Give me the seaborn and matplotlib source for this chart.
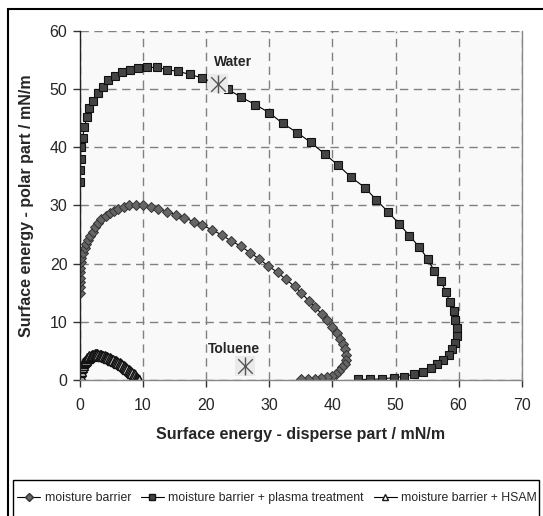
import matplotlib
matplotlib.use("Agg")
import matplotlib.pyplot as plt
from matplotlib.patches import Rectangle
from matplotlib.lines import Line2D
import seaborn as sns
import pandas as pd

sns.set_style("white")
plt.rcParams['font.family'] = ['Liberation Sans', 'DejaVu Sans']

# ---- data ----
barrier_x = [0, 0, 0, 0, 0, 0.05, 0.1, 0.2, 0.4, 0.8, 1.0, 1.3, 1.6, 2.0, 2.4, 2.9, 3.4, 4.1,
             4.8, 5.4, 6.1, 6.9, 7.8, 8.9, 10.0, 11.2, 12.4, 13.8, 15.2, 16.5, 18.0, 19.4,
             20.9, 22.5, 23.9, 25.5, 26.9, 28.4, 29.8, 31.3, 32.6, 34.0, 35.1, 36.3, 37.2,
             38.3, 39.2, 39.9, 40.7, 41.2, 41.7, 42.0, 42.2, 42.2, 42.0, 41.6, 41.1, 40.6,
             39.9, 39.1, 38.2, 37.2, 36.2, 35.0]
barrier_y = [15.0, 15.9, 16.8, 17.6, 18.5, 19.3, 20.2, 21.0, 21.9, 22.7, 23.4, 24.1, 24.8,
             25.5, 26.3, 27.0, 27.6, 28.1, 28.7, 29.0, 29.4, 29.7, 30.0, 30.1, 30.0, 29.7,
             29.3, 28.9, 28.4, 27.9, 27.2, 26.6, 25.8, 24.9, 23.9, 23.0, 21.9, 20.8, 19.6,
             18.5, 17.3, 16.1, 14.9, 13.6, 12.5, 11.4, 10.3, 9.1, 8.1, 7.1, 6.1, 5.3, 4.3,
             3.4, 2.7, 2.2, 1.6, 1.1, 0.7, 0.5, 0.3, 0.2, 0.1, 0.1]

plasma_x = [0, 0, 0.1, 0.1, 0.4, 0.7, 1.1, 1.5, 2.1, 2.8, 3.6, 4.5, 5.5, 6.6, 7.9, 9.2, 10.6,
            12.2, 13.8, 15.6, 17.4, 19.3, 21.4, 23.5, 25.5, 27.8, 30.0, 32.1, 34.4, 36.6,
            38.8, 40.9, 42.9, 45.2, 46.9, 48.8, 50.6, 52.2, 53.8, 55.1, 56.1, 57.2, 58.0,
            58.6, 59.2, 59.5, 59.7, 59.7, 59.4, 58.9, 58.4, 57.5, 56.6, 55.6, 54.3, 52.9,
            51.3, 49.7, 47.8, 46.0, 44.0]
plasma_y = [34.0, 36.0, 38.0, 40.0, 41.6, 43.4, 45.2, 46.7, 48.0, 49.3, 50.4, 51.5, 52.3,
            52.9, 53.3, 53.6, 53.7, 53.7, 53.3, 53.0, 52.5, 51.9, 51.0, 49.9, 48.6, 47.3,
            45.9, 44.1, 42.5, 40.8, 38.8, 36.9, 34.9, 33.0, 31.0, 28.9, 26.8, 24.8, 22.8,
            20.8, 18.8, 17.0, 15.1, 13.4, 11.8, 10.3, 8.9, 7.6, 6.4, 5.3, 4.3, 3.4, 2.7,
            2.0, 1.4, 1.0, 0.6, 0.4, 0.2, 0.1, 0.1]

hsam_x = [0.0, 0.05, 0.1, 0.2, 0.3, 0.4, 0.5, 0.6, 0.75, 0.9, 1.05, 1.2, 1.35, 1.5, 1.7,
          1.9, 2.1, 2.3, 2.5, 2.7, 2.9, 3.1, 3.3, 3.5, 3.7, 3.9, 4.1, 4.3, 4.5, 4.7, 4.9,
          5.1, 5.3, 5.5, 5.7, 5.9, 6.1, 6.3, 6.5, 6.7, 6.9, 7.1, 7.3, 7.5, 7.7, 7.9, 8.1,
          8.3, 8.5, 8.7, 8.85, 9.0, 9.1, 9.2, 9.3, 9.35]
hsam_y = [0.9, 1.3, 1.6, 2.0, 2.3, 2.6, 2.85, 3.05, 3.3, 3.5, 3.7, 3.85, 4.0, 4.1, 4.2,
          4.3, 4.35, 4.4, 4.4, 4.4, 4.35, 4.3, 4.25, 4.2, 4.1, 4.05, 4.0, 3.9, 3.8, 3.7,
          3.6, 3.5, 3.4, 3.3, 3.2, 3.1, 2.95, 2.85, 2.7, 2.55, 2.4, 2.25, 2.1, 1.95, 1.8,
          1.6, 1.4, 1.2, 1.0, 0.8, 0.6, 0.4, 0.25, 0.12, 0.05, 0.0]

liquid_names = ["Water", "Toluene"]
liquid_x = [21.9, 26.1]
liquid_y = [50.9, 2.4]

series_labels = ["moisture barrier", "moisture barrier + plasma treatment",
                 "moisture barrier + HSAM"]
x_ticks = [0, 10, 20, 30, 40, 50, 60, 70]
y_ticks = [0, 10, 20, 30, 40, 50, 60]

# ---- figure ----
W, H = 543, 516
fig = plt.figure(figsize=(W / 100, H / 100), dpi=100)
ax = fig.add_axes([80 / W, 1 - 380 / H, 441.7 / W, 349.3 / H])
ax.set_facecolor('#f9f9f9')

common = dict(sort=False, estimator=None, color='black', linewidth=0.8, legend=False, ax=ax)
sns.lineplot(x=barrier_x, y=barrier_y, marker='D', markersize=5.4,
             markerfacecolor='#666666', markeredgecolor='#333333', markeredgewidth=0.7, **common)
sns.lineplot(x=plasma_x, y=plasma_y, marker='s', markersize=5.8,
             markerfacecolor='#444444', markeredgecolor='#111111', markeredgewidth=0.8, **common)
sns.lineplot(x=hsam_x, y=hsam_y, marker='^', markersize=6.5,
             markerfacecolor='#cfcfcf', markeredgecolor='#111111', markeredgewidth=1.0, **common)

# liquids (star markers)
liq = pd.DataFrame({"x": liquid_x, "y": liquid_y})
sns.scatterplot(data=liq, x="x", y="y", marker='s', s=200, color='#eaeaea',
                edgecolor='none', ax=ax, zorder=5, legend=False)
sns.scatterplot(data=liq, x="x", y="y", marker='x', s=110, color='#555555',
                linewidth=1.0, ax=ax, zorder=6, legend=False)
sns.scatterplot(data=liq, x="x", y="y", marker='|', s=160, color='#555555',
                linewidth=1.0, ax=ax, zorder=6, legend=False)
ax.text(liquid_x[0] - 0.7, liquid_y[0] + 3.8, liquid_names[0], fontsize=10,
        fontweight='bold', va='center', ha='left')
ax.text(liquid_x[1] - 5.8, liquid_y[1] + 2.9, liquid_names[1], fontsize=10,
        fontweight='bold', va='center', ha='left')

ax.set_xlim(0, 70)
ax.set_ylim(0, 60)
ax.set_xticks(x_ticks)
ax.set_yticks(y_ticks)
ax.tick_params(axis='both', labelsize=11.5, direction='out', length=5, width=1,
               color='#333333', bottom=True, left=True)
ax.tick_params(axis='x', pad=8)
ax.tick_params(axis='y', pad=4)
ax.grid(True, linestyle=(0, (6, 4)), color='#808080', linewidth=1)
ax.set_axisbelow(True)
for s in ['top', 'right', 'bottom']:
    ax.spines[s].set_color('#888888')
    ax.spines[s].set_linewidth(1)
ax.spines['left'].set_color('#222222')
ax.spines['left'].set_linewidth(1)
ax.spines['top'].set_visible(False)

ax.set_xlabel("Surface energy - disperse part / mN/m", fontsize=11.5, fontweight='bold')
ax.set_ylabel("Surface energy - polar part / mN/m", fontsize=11.5, fontweight='bold')
ax.xaxis.set_label_coords(0.5, -0.135)
ax.yaxis.set_label_coords(-0.105, 0.5)

# outer chart frame
fig.add_artist(Rectangle((8 / W, -0.2), 2, 1.2 - 9 / H, transform=fig.transFigure,
                         fill=False, edgecolor='black', linewidth=1.5))
# legend box
fig.add_artist(Rectangle((13 / W, -0.2), (539 - 13) / W, 0.2 + (H - 480) / H,
                         transform=fig.transFigure, fill=False, edgecolor='black', linewidth=1))

handles = [
    Line2D([], [], color='black', lw=0.8, marker='D', ms=4.5, mfc='#666666', mec='#333333'),
    Line2D([], [], color='black', lw=0.8, marker='s', ms=5, mfc='#444444', mec='#111111'),
    Line2D([], [], color='black', lw=0.8, marker='^', ms=5, mfc='white', mec='#1a1a1a'),
]
fig.legend(handles, series_labels, loc='center', bbox_to_anchor=(277 / W, 1 - 498 / H),
           ncol=3, frameon=False, fontsize=8.8, handlelength=1.9, handletextpad=0.35,
           columnspacing=0.8, borderpad=0)

fig.savefig("out.png", dpi=100)
